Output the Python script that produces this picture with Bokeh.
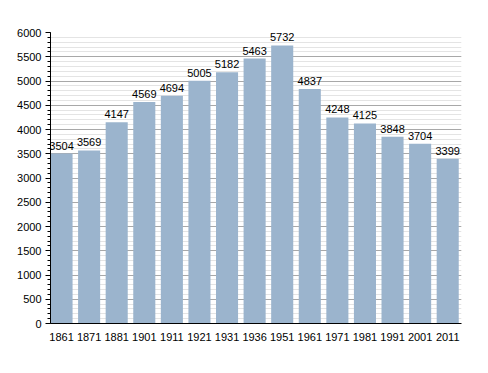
from bokeh.plotting import figure
from bokeh.models import Range1d, FixedTicker, SingleIntervalTicker, ColumnDataSource, LabelSet
from bokeh.core.properties import value
from bokeh.embed import file_html
from bokeh.resources import INLINE

years = ["1861", "1871", "1881", "1901", "1911", "1921", "1931", "1936",
         "1951", "1961", "1971", "1981", "1991", "2001", "2011"]
population = [3504, 3569, 4147, 4569, 4694, 5005, 5182, 5463,
              5732, 4837, 4248, 4125, 3848, 3704, 3399]

xs = list(range(len(years)))
src = ColumnDataSource(dict(x=xs, y=population, t=[str(v) for v in population]))

p = figure(width=472, height=357, output_backend="svg", toolbar_location=None,
           x_range=Range1d(-0.4, len(years) - 0.5),
           y_range=Range1d(0, 6000),
           min_border_left=50, min_border_right=11, min_border_top=32, min_border_bottom=34)
p.outline_line_color = None
p.background_fill_color = "white"

p.vbar(x="x", top="y", width=0.8, source=src, fill_color="#9bb4cd", line_color=None)

labels = LabelSet(x="x", y="y", text="t", source=src, text_align="center",
                  text_baseline="bottom", y_offset=4, text_font=value("Liberation Sans"),
                  text_font_size=value("11px"), text_color="black", level="overlay")
p.add_layout(labels)

p.yaxis.ticker = SingleIntervalTicker(interval=500, num_minor_ticks=5)
p.ygrid.grid_line_color = "#a8a8a8"
p.ygrid.minor_grid_line_color = "#e4e4e4"
p.ygrid.level = "underlay"
p.xgrid.grid_line_color = None

p.xaxis.ticker = FixedTicker(ticks=xs)
p.xaxis.major_label_overrides = {i: y for i, y in zip(xs, years)}

for ax in (p.xaxis, p.yaxis):
    ax.axis_line_color = "black"
    ax.major_label_text_font = "Liberation Sans"
    ax.major_label_text_font_size = "11px"
    ax.major_label_text_color = "black"

p.yaxis.major_tick_out = 5
p.yaxis.major_tick_in = 0
p.yaxis.minor_tick_out = 3
p.yaxis.minor_tick_in = 0
p.yaxis.major_tick_line_color = "black"
p.yaxis.minor_tick_line_color = "black"
p.yaxis.major_label_standoff = 4

p.xaxis.major_tick_line_color = None
p.xaxis.minor_tick_line_color = None
p.xaxis.major_label_standoff = 3

open("out.html", "w").write(file_html(p, INLINE))
